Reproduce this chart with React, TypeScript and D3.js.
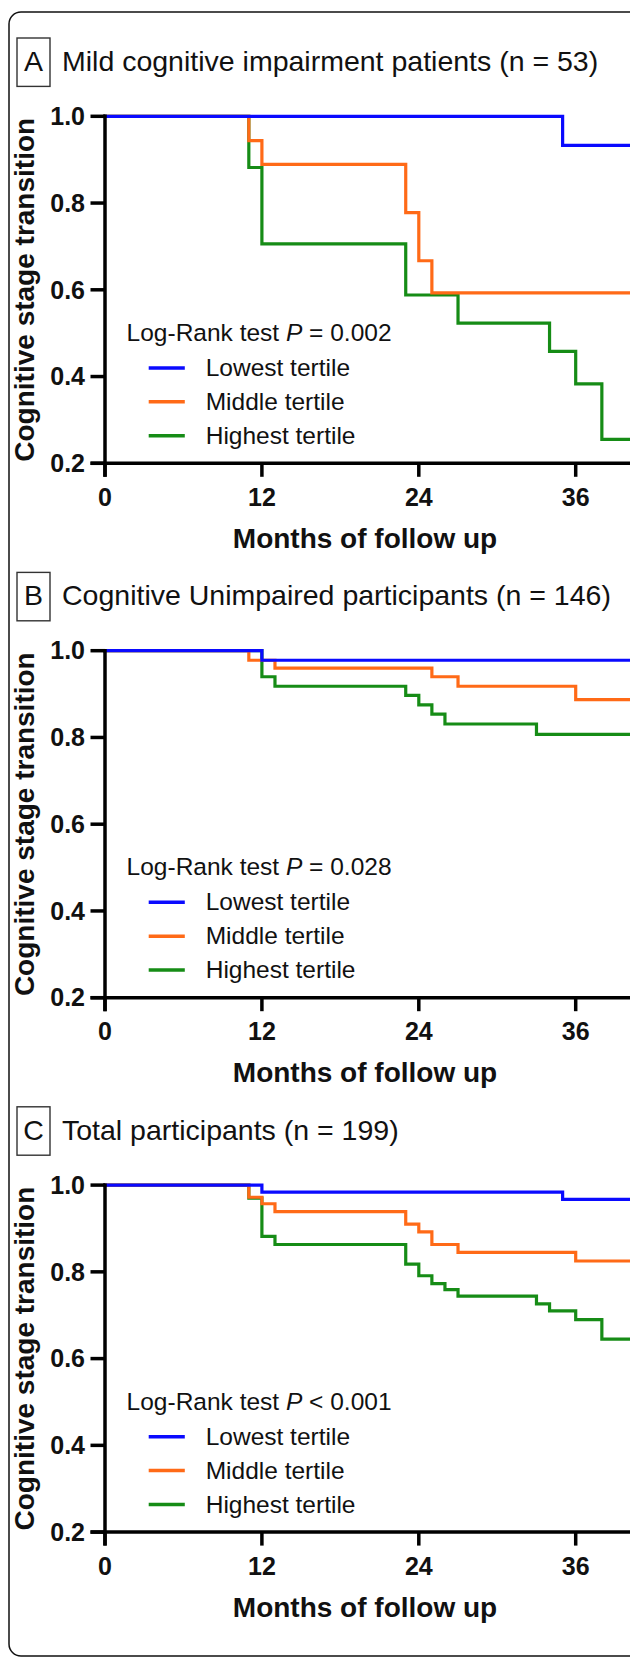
import React from "react";
import * as d3 from "d3";

const monthTicks = [0, 12, 24, 36];
const yTicks = [0.2, 0.4, 0.6, 0.8, 1.0];
const seriesNames = ["Lowest tertile", "Middle tertile", "Highest tertile"];
const seriesColors = ["#0a0aff", "#ff6a17", "#168c16"];
const panelLetters = ["A", "B", "C"];
const panelTitles = [
  "Mild cognitive impairment patients (n = 53)",
  "Cognitive Unimpaired participants (n = 146)",
  "Total participants (n = 199)",
];
const pSigns = ["=", "=", "<"];
const pValues = ["0.002", "0.028", "0.001"];
const followEnd = 42;

// Panel A: MCI
const mciLowT = [0, 35];
const mciLowS = [1, 0.933];
const mciMidT = [0, 11, 12, 23, 24, 25];
const mciMidS = [1, 0.944, 0.889, 0.778, 0.667, 0.593];
const mciHighT = [0, 11, 12, 23, 27, 34, 36, 38];
const mciHighS = [1, 0.882, 0.706, 0.588, 0.523, 0.458, 0.383, 0.255];

// Panel B: CU
const cuLowT = [0, 12];
const cuLowS = [1, 0.978];
const cuMidT = [0, 11, 13, 25, 27, 36];
const cuMidS = [1, 0.978, 0.96, 0.94, 0.918, 0.887];
const cuHighT = [0, 12, 13, 23, 24, 25, 26, 33];
const cuHighS = [1, 0.94, 0.918, 0.897, 0.875, 0.854, 0.831, 0.807];

// Panel C: Total
const totLowT = [0, 12, 35];
const totLowS = [1, 0.984, 0.967];
const totMidT = [0, 11, 12, 13, 23, 24, 25, 27, 36];
const totMidS = [1, 0.972, 0.957, 0.939, 0.91, 0.892, 0.863, 0.845, 0.825];
const totHighT = [0, 11, 12, 13, 23, 24, 25, 26, 27, 33, 34, 36, 38];
const totHighS = [1, 0.97, 0.882, 0.863, 0.818, 0.791, 0.773, 0.759, 0.744, 0.726, 0.71, 0.69, 0.645];

const panelSeries = [
  [[mciLowT, mciLowS], [mciMidT, mciMidS], [mciHighT, mciHighS]],
  [[cuLowT, cuLowS], [cuMidT, cuMidS], [cuHighT, cuHighS]],
  [[totLowT, totLowS], [totMidT, totMidS], [totHighT, totHighS]],
];

const W = 630;
const H = 1660;
const panelStep = 534.4;
const font = "'Liberation Sans', Arial, Helvetica, sans-serif";

const x = d3.scaleLinear().domain([0, 40]).range([105, 628]);
const yBase = d3.scaleLinear().domain([0.2, 1.0]).range([463.3, 116.3]);

function Panel({ index }: { index: number }) {
  const off = index * panelStep;
  const y = (v: number) => yBase(v) + off;
  const line = d3
    .line<[number, number]>()
    .x((d) => x(d[0]))
    .y((d) => y(d[1]))
    .curve(d3.curveStepAfter);
  const series = panelSeries[index];
  const y0 = y(0.2);
  const y1 = y(1.0);
  const x0 = x(0);
  const drawOrder = [2, 1, 0];
  return (
    <g>
      {/* label box and title */}
      <rect x={17} y={38 + off} width={33} height={48.4} fill="none" stroke="#333" strokeWidth={1.4} />
      <text x={33.5} y={70.7 + off} fontSize={28.5} fontFamily={font} textAnchor="middle" fill="#111">
        {panelLetters[index]}
      </text>
      <text x={62} y={70.7 + off} fontSize={28.5} fontFamily={font} fill="#111">
        {panelTitles[index]}
      </text>

      {/* curves */}
      {drawOrder.map((si) => {
        const [ts, ss] = series[si];
        const pts: [number, number][] = ts.map((t, i) => [t, ss[i]] as [number, number]);
        pts.push([followEnd, ss[ss.length - 1]]);
        return (
          <path
            key={si}
            d={line(pts) || ""}
            fill="none"
            stroke={seriesColors[si]}
            strokeWidth={3.2}
            strokeLinejoin="miter"
            strokeLinecap="square"
          />
        );
      })}

      {/* axes */}
      <line x1={x0} x2={x0} y1={y1 - 1.7} y2={y0 + 13.5} stroke="#000" strokeWidth={3.5} />
      <line x1={x0 - 14.5} x2={W + 5} y1={y0} y2={y0} stroke="#000" strokeWidth={3.5} />
      {yTicks.map((t) => (
        <g key={t}>
          <line x1={x0 - 14.5} x2={x0} y1={y(t)} y2={y(t)} stroke="#000" strokeWidth={3.5} />
          <text
            x={85}
            y={y(t)}
            dy="0.35em"
            textAnchor="end"
            fontSize={25}
            fontWeight="bold"
            fontFamily={font}
            fill="#111"
          >
            {t.toFixed(1)}
          </text>
        </g>
      ))}
      {monthTicks.map((m) => (
        <g key={m}>
          <line x1={x(m)} x2={x(m)} y1={y0} y2={y0 + 13.5} stroke="#000" strokeWidth={3.5} />
          <text
            x={x(m)}
            y={y0 + 42.7}
            textAnchor="middle"
            fontSize={25}
            fontWeight="bold"
            fontFamily={font}
            fill="#111"
          >
            {m}
          </text>
        </g>
      ))}
      <text
        x={365}
        y={y0 + 84.4}
        textAnchor="middle"
        fontSize={28}
        fontWeight="bold"
        fontFamily={font}
        fill="#111"
      >
        Months of follow up
      </text>
      <text
        transform={`translate(34,${(y0 + y1) / 2}) rotate(-90)`}
        textAnchor="middle"
        fontSize={28}
        fontWeight="bold"
        fontFamily={font}
        fill="#111"
      >
        Cognitive stage transition
      </text>

      {/* legend */}
      <text x={126.6} y={341 + off} fontSize={24.5} fontFamily={font} fill="#111">
        Log-Rank test <tspan fontStyle="italic">P</tspan> {pSigns[index]} {pValues[index]}
      </text>
      {seriesNames.map((name, i) => {
        const ly = 367.9 + i * 33.9 + off;
        return (
          <g key={name}>
            <line x1={148.7} x2={184.8} y1={ly} y2={ly} stroke={seriesColors[i]} strokeWidth={3.5} />
            <text x={205.7} y={ly + 8} fontSize={24.5} fontFamily={font} fill="#111">
              {name}
            </text>
          </g>
        );
      })}
    </g>
  );
}

export default function App() {
  return (
    <svg
      width={W}
      height={H}
      viewBox={`0 0 ${W} ${H}`}
      style={{ position: "absolute", left: 0, top: 0, background: "#fff" }}
    >
      <rect x={0} y={0} width={W} height={H} fill="#fff" />
      <rect x={9} y={12} width={W + 20} height={1644} rx={12} ry={12} fill="none" stroke="#111" strokeWidth={1.5} />
      {[0, 1, 2].map((i) => (
        <Panel key={i} index={i} />
      ))}
    </svg>
  );
}
